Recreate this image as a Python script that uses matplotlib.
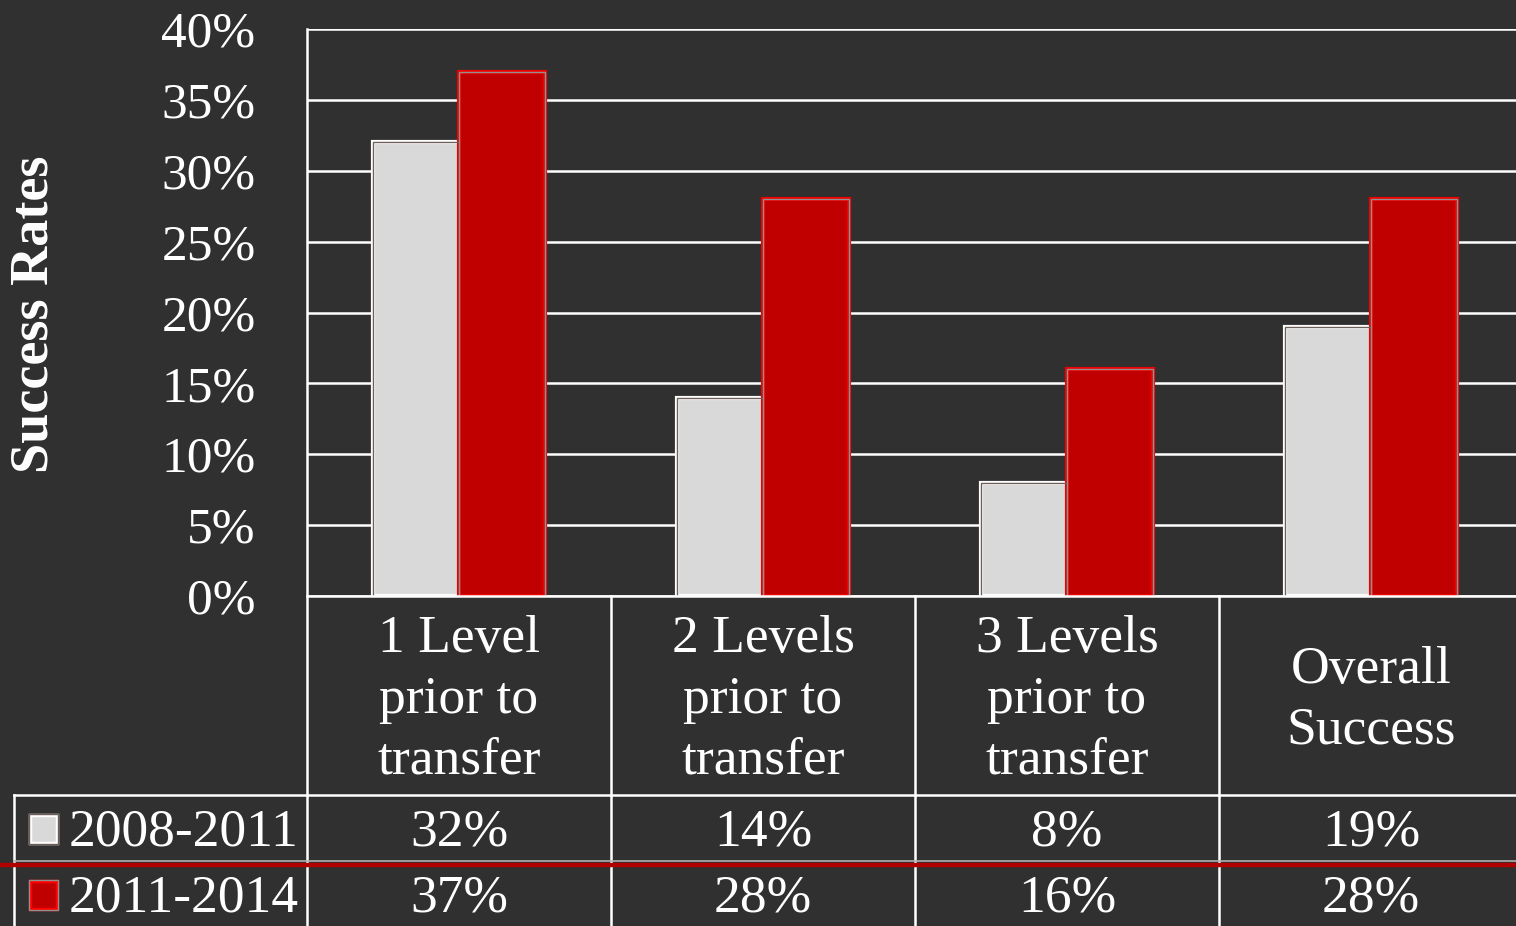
import numpy as np
import matplotlib
matplotlib.use("Agg")
import matplotlib.pyplot as plt
from matplotlib.lines import Line2D
from matplotlib.patches import Rectangle
from matplotlib.ticker import PercentFormatter
from matplotlib import transforms

# data
categories = ["1 Level\nprior to\ntransfer", "2 Levels\nprior to\ntransfer",
              "3 Levels\nprior to\ntransfer", "Overall\nSuccess"]
series_names = ["2008-2011", "2011-2014"]
rates_0811 = [0.32, 0.14, 0.08, 0.19]
rates_1114 = [0.37, 0.28, 0.16, 0.28]
table_0811 = ["32%", "14%", "8%", "19%"]
table_1114 = ["37%", "28%", "16%", "28%"]

BG = "#303030"
GRAY = "#d9d9d9"
RED = "#c00000"
W, H = 1516, 926
FS_TICK = 37
FS_TAB = 38.5
FS_LAB = 39

plt.rcParams["font.family"] = ["Liberation Serif", "DejaVu Serif"]


def fx(px):
    return px / W


def fy(py):
    return 1 - py / H


fig = plt.figure(figsize=(W / 100, H / 100), dpi=100, facecolor=BG)
ax = fig.add_axes([fx(307), fy(596), (1523 - 307) / W, (596 - 29) / H])
ax.set_facecolor(BG)

x = np.arange(len(categories))
bw = 0.283
# bars: fill with inner glow, then thin outer edge
ax.bar(x - bw / 2, rates_0811, bw, color=GRAY, edgecolor="white", lw=3, zorder=3)
ax.bar(x - bw / 2, rates_0811, bw, fill=False, edgecolor="#6e5f58", lw=1, zorder=4)
ax.bar(x + bw / 2, rates_1114, bw, color=RED, edgecolor="#f00000", lw=3, zorder=3)
ax.bar(x + bw / 2, rates_1114, bw, fill=False, edgecolor="#909090", lw=1, zorder=4)

ax.set_xlim(-0.5, 3.5)
ax.set_ylim(0, 0.40)
ax.set_yticks(np.arange(0, 0.401, 0.05))
ax.yaxis.set_major_formatter(PercentFormatter(1.0, decimals=0))
ax.tick_params(axis="y", length=0, pad=37, labelsize=FS_TICK, labelcolor="white")
ax.set_xticks([])
ax.yaxis.grid(True, color="white", lw=1.8, zorder=1)
ax.set_axisbelow(True)
for s in ["top", "right", "bottom", "left"]:
    ax.spines[s].set_visible(False)

fig.text(fx(35), fy(314), "Success Rates", rotation=90, ha="center", va="center",
         fontsize=FS_LAB, fontweight="bold", color="white")

# table grid
bt = transforms.blended_transform_factory(ax.transData, fig.transFigure)
lw = 1.8
fig.add_artist(Line2D([fx(307), fx(307)], [fy(29), 0], color="white", lw=lw))
fig.add_artist(Line2D([fx(307), 1], [fy(596), fy(596)], color="white", lw=lw))
for b in x[:-1] + 0.5:
    fig.add_artist(Line2D([b, b], [fy(596), 0], color="white", lw=lw, transform=bt))
fig.add_artist(Line2D([fx(14), 1], [fy(795), fy(795)], color="white", lw=lw))
fig.add_artist(Line2D([fx(14), fx(14)], [fy(795), 0], color="white", lw=lw))
fig.add_artist(Line2D([fx(14), 1], [fy(860.5), fy(860.5)], color="#b0b0b0", lw=1.2))
fig.add_artist(Line2D([0, 1], [fy(864.5), fy(864.5)], color="#b00000", lw=3.2))

for i in x:
    fig.text(i, fy(700), categories[i], transform=bt, ha="center", va="center",
             fontsize=FS_TAB, color="white", linespacing=1.35)
    fig.text(i, fy(832), table_0811[i], transform=bt, ha="center", va="center",
             fontsize=FS_TAB, color="white")
    fig.text(i, fy(898), table_1114[i], transform=bt, ha="center", va="center",
             fontsize=FS_TAB, color="white")

# legend keys in table
for yc, face, glow, edge, name in [(829, GRAY, "white", "#6e5f58", series_names[0]),
                                   (895, RED, "#ff0000", "#909090", series_names[1])]:
    fig.add_artist(Rectangle((fx(30), fy(yc + 14)), 27 / W, 28 / H,
                             transform=fig.transFigure, facecolor=face,
                             edgecolor=glow, lw=2.5))
    fig.add_artist(Rectangle((fx(29), fy(yc + 15)), 29 / W, 30 / H,
                             transform=fig.transFigure, fill=False,
                             edgecolor=edge, lw=1))
    fig.text(fx(69), fy(yc + 3), name, ha="left", va="center", fontsize=FS_TAB,
             color="white")

fig.savefig("out.png", dpi=100, facecolor=BG)
